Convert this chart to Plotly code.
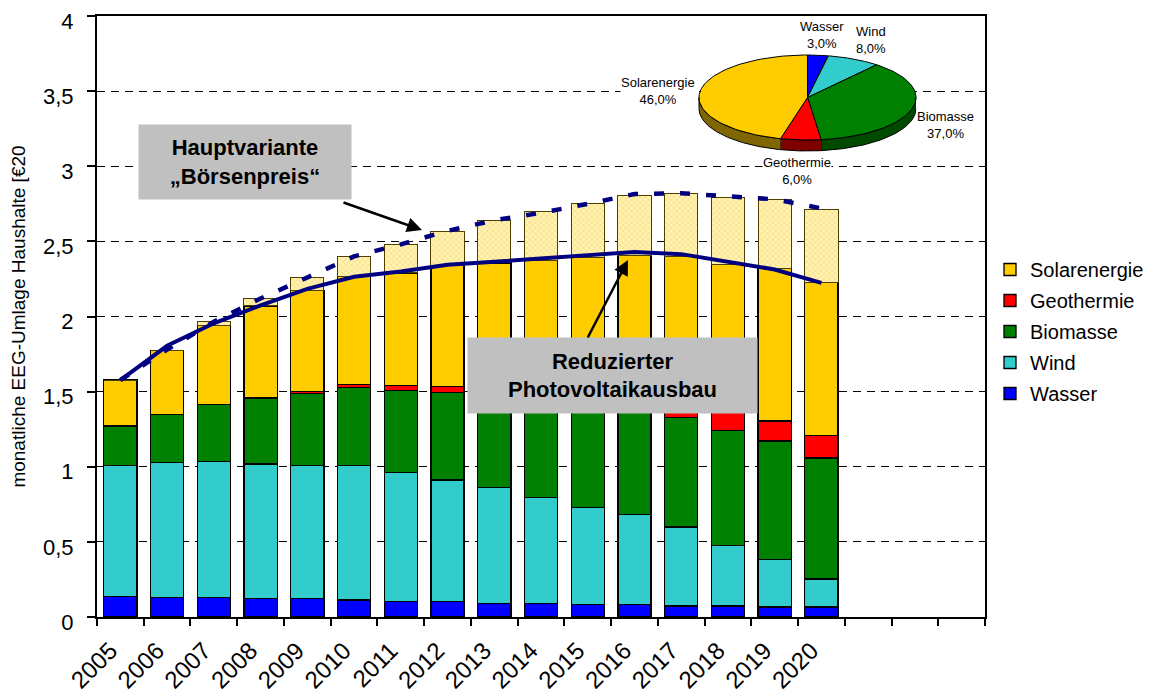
import numpy as np
import plotly.graph_objects as go

# Jahre und Anteile je Energieträger (monatliche EEG-Umlage, €)
jahre = ["2005", "2006", "2007", "2008", "2009", "2010", "2011", "2012",
         "2013", "2014", "2015", "2016", "2017", "2018", "2019", "2020"]
leer = ["2021", "2022", "2023"]

wasser = [0.138, 0.132, 0.132, 0.123, 0.123, 0.114, 0.105, 0.105,
          0.089, 0.089, 0.082, 0.082, 0.073, 0.073, 0.067, 0.067]
wind = [0.869, 0.895, 0.904, 0.895, 0.884, 0.893, 0.855, 0.806,
        0.772, 0.706, 0.646, 0.599, 0.526, 0.402, 0.315, 0.186]
biomasse = [0.265, 0.321, 0.379, 0.437, 0.482, 0.520, 0.549, 0.584,
            0.609, 0.640, 0.670, 0.700, 0.728, 0.764, 0.790, 0.806]
geothermie = [0.0, 0.0, 0.0, 0.005, 0.010, 0.022, 0.031, 0.040,
              0.050, 0.060, 0.070, 0.085, 0.100, 0.125, 0.133, 0.151]
solar = [0.305, 0.424, 0.526, 0.610, 0.676, 0.719, 0.750, 0.805,
         0.837, 0.880, 0.925, 0.942, 0.975, 0.985, 1.015, 1.014]
solar_zusatz = [0.0, 0.0, 0.023, 0.050, 0.084, 0.130, 0.186, 0.226,
                0.284, 0.322, 0.359, 0.400, 0.417, 0.443, 0.459, 0.489]

hauptvariante = [1.577, 1.780, 1.965, 2.120, 2.260, 2.400, 2.480, 2.570,
                 2.640, 2.690, 2.750, 2.815, 2.820, 2.797, 2.780, 2.720]
reduziert = [1.577, 1.805, 1.955, 2.074, 2.184, 2.264, 2.300, 2.345,
             2.364, 2.386, 2.402, 2.430, 2.415, 2.364, 2.313, 2.224]

# Kreisdiagramm (Anteile 2020)
pie_labels = ["Wasser", "Wind", "Biomasse", "Geothermie", "Solarenergie"]
pie_werte = [3.0, 8.0, 37.0, 6.0, 46.0]

farben = {"Wasser": "#0000FF", "Wind": "#33CCCC", "Biomasse": "#008000",
          "Geothermie": "#FF0000", "Solarenergie": "#FFCC00"}
seiten = {"Biomasse": "#004A00", "Geothermie": "#800000", "Solarenergie": "#806600"}
rang = {"Solarenergie": 1, "Geothermie": 2, "Biomasse": 3, "Wind": 4, "Wasser": 5}

FONT = "Arial, Liberation Sans, sans-serif"

# Plotfläche in Bildschirm-Pixeln (die Seite hat 8px Rand)
OFF = 8
L, R, T, B = 97, 985, 16, 617
W, H = R - L, B - T


def px(x):
    return (x - L) / W


def py(y):
    return (B - y) / H


fig = go.Figure()

for name, werte in [("Wasser", wasser), ("Wind", wind), ("Biomasse", biomasse),
                    ("Geothermie", geothermie), ("Solarenergie", solar)]:
    fig.add_trace(go.Bar(x=jahre, y=werte, name=name, legendgroup=name, legendrank=rang[name],
                         marker=dict(color=farben[name], line=dict(color="black", width=1.3))))

fig.add_trace(go.Bar(x=jahre, y=solar_zusatz, showlegend=False,
                     marker=dict(color="#FFEB99", line=dict(color="#4D4000", width=1),
                                 pattern=dict(shape="x", size=4, solidity=0.35,
                                              fgcolor="#F5CC30", bgcolor="#FFF2B8"))))

fig.add_trace(go.Scatter(x=jahre, y=reduziert, mode="lines", showlegend=False,
                         line=dict(color="#000080", width=4)))
fig.add_trace(go.Scatter(x=jahre, y=hauptvariante, mode="lines", showlegend=False,
                         line=dict(color="#000080", width=4.5, dash="10px,16px")))

# 3D-Kreisdiagramm als Ellipse auf eigenen Achsen
rx_px, ry_px, tiefe_px = 108.5, 42.5, 11
cx, cy = 807.5, 97.5
px_w, px_h = 117.5, 57.5
tiefe = tiefe_px / ry_px

cum = np.concatenate([[0], np.cumsum(pie_werte)]) / 100.0
for i, name in enumerate(pie_labels):
    if name not in seiten:
        continue
    t0, t1 = 90 - 360 * cum[i], 90 - 360 * cum[i + 1]
    a, b = min(t0, 0), max(t1, -180)
    if a <= b:
        continue
    th = np.radians(np.linspace(a, b, 60))
    xs = np.concatenate([np.cos(th), np.cos(th[::-1])])
    ys = np.concatenate([np.sin(th), np.sin(th[::-1]) - tiefe])
    fig.add_trace(go.Scatter(x=xs, y=ys, fill="toself", mode="lines", fillcolor=seiten[name],
                             line=dict(color="black", width=1), showlegend=False,
                             hoverinfo="skip", xaxis="x2", yaxis="y2"))

for i, name in enumerate(pie_labels):
    t0, t1 = 90 - 360 * cum[i], 90 - 360 * cum[i + 1]
    th = np.radians(np.linspace(t0, t1, 80))
    xs = np.concatenate([[0], np.cos(th), [0]])
    ys = np.concatenate([[0], np.sin(th), [0]])
    fig.add_trace(go.Scatter(x=xs, y=ys, fill="toself", mode="lines", fillcolor=farben[name],
                             line=dict(color="black", width=1), showlegend=False,
                             hoverinfo="skip", xaxis="x2", yaxis="y2"))

pie_pos = {"Wasser": (822, 35), "Wind": (871, 40), "Biomasse": (945, 125),
           "Geothermie": (797, 171), "Solarenergie": (658, 91)}
annotations = []
for name, wert in zip(pie_labels, pie_werte):
    x, y = pie_pos[name]
    annotations.append(dict(x=px(x), y=py(y), xref="paper", yref="paper", showarrow=False,
                            xanchor="center", yanchor="middle",
                            text=f"{name}<br>{wert:.1f}%".replace(".", ","),
                            font=dict(family=FONT, size=13, color="black"),
                            bgcolor="white", borderpad=0))

# Textboxen und Pfeile
box_font = dict(family=FONT, size=22, color="black", weight="bold")
annotations.append(dict(x=px(245), y=py(162), xref="paper", yref="paper", showarrow=False,
                        xanchor="center", yanchor="middle",
                        text="Hauptvariante<br>„Börsenpreis“", font=box_font,
                        bgcolor="#C0C0C0", width=212, height=74, borderpad=0))
annotations.append(dict(x=px(612.5), y=py(375.5), xref="paper", yref="paper", showarrow=False,
                        xanchor="center", yanchor="middle",
                        text="Reduzierter<br>Photovoltaikausbau", font=box_font,
                        bgcolor="#C0C0C0", width=289, height=75, borderpad=0))
annotations.append(dict(x=px(422), y=py(230), xref="paper", yref="paper", text="",
                        showarrow=True, ax=-80, ay=-28, arrowhead=2, arrowsize=1.2,
                        arrowwidth=2.5, arrowcolor="black"))
annotations.append(dict(x=px(628), y=py(260), xref="paper", yref="paper", text="",
                        showarrow=True, ax=-41, ay=79, arrowhead=2, arrowsize=1.2,
                        arrowwidth=2.5, arrowcolor="black"))

kategorien = jahre + leer
fig.update_layout(
    width=1163, height=695,
    margin=dict(l=L - OFF, r=1163 - R + OFF, t=T - OFF, b=695 - B + OFF),
    paper_bgcolor="white", plot_bgcolor="rgba(0,0,0,0)",
    separators=", ",
    barmode="stack", bargap=0.29,
    font=dict(family=FONT, color="black"),
    xaxis=dict(type="category", categoryorder="array", categoryarray=kategorien,
               tickmode="array", tickvals=kategorien, ticktext=jahre + ["", "", ""],
               tickson="boundaries", ticks="outside", ticklen=7, tickwidth=1.5,
               tickcolor="black", tickangle=-45, tickfont=dict(size=24),
               ticklabelshift=-10, ticklabelstandoff=8,
               range=[-0.5, len(kategorien) - 0.5],
               showline=True, linecolor="black", linewidth=2, mirror=True,
               showgrid=False, fixedrange=True, automargin=False),
    yaxis=dict(range=[0, 4], dtick=0.5, ticks="outside", ticklen=8, tickwidth=1.5,
               tickcolor="black", tickfont=dict(size=22), ticklabelstandoff=9,
               ticklabelshift=5, ticklabeloverflow="allow",
               showline=True, linecolor="black", linewidth=2, mirror=True,
               showgrid=True, gridcolor="black", gridwidth=1, griddash="8px,6px",
               zeroline=False, fixedrange=True, automargin=False,
               title=dict(text="monatliche EEG-Umlage Haushalte [€20",
                          font=dict(size=19), standoff=13)),
    xaxis2=dict(domain=[px(cx - px_w), px(cx + px_w)], range=[-px_w / rx_px, px_w / rx_px],
                visible=False, anchor="y2", fixedrange=True),
    yaxis2=dict(domain=[py(cy + px_h), py(cy - px_h)], range=[-px_h / ry_px, px_h / ry_px],
                visible=False, anchor="x2", fixedrange=True),
    legend=dict(x=px(990), y=py(250), xanchor="left", yanchor="top",
                traceorder="grouped", tracegroupgap=2,
                font=dict(family=FONT, size=20), bgcolor="rgba(0,0,0,0)"),
    annotations=annotations,
    showlegend=True,
)

fig.write_html("out.html")
